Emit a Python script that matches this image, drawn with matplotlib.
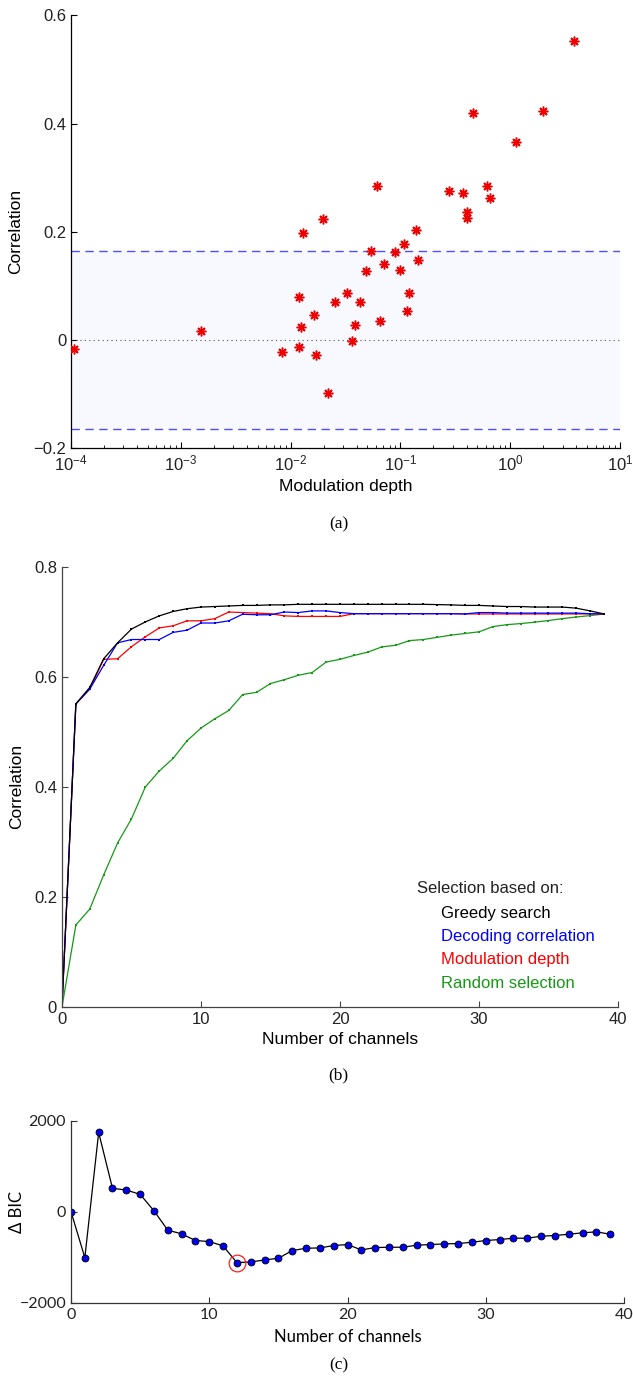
import numpy as np
import matplotlib
matplotlib.use('Agg')
import matplotlib.pyplot as plt

plt.rcParams['font.family'] = ['Liberation Sans', 'DejaVu Sans']
plt.rcParams['mathtext.fontset'] = 'custom'
plt.rcParams['mathtext.rm'] = 'Liberation Sans'
plt.rcParams['mathtext.it'] = 'Liberation Sans:italic'
plt.rcParams['axes.unicode_minus'] = True

# (a) modulation depth vs decoding correlation, one point per channel
mod_depth = [1.06e-4, 1.53e-3, 0.00834, 0.0119, 0.0119, 0.0125, 0.0130, 0.0162, 0.0170,
             0.01955, 0.0219, 0.0251, 0.0326, 0.0359, 0.0388, 0.0428, 0.0489, 0.0535,
             0.0617, 0.0646, 0.0713, 0.0885, 0.099, 0.1086, 0.1148, 0.1205, 0.1396,
             0.1457, 0.279, 0.369, 0.401, 0.401, 0.455, 0.615, 0.656, 1.14, 1.98, 3.80]
chan_corr = [-0.016, 0.017, -0.022, -0.012, 0.080, 0.025, 0.197, 0.046, -0.028,
             0.224, -0.097, 0.071, 0.087, -0.001, 0.028, 0.071, 0.127, 0.164,
             0.284, 0.036, 0.140, 0.162, 0.129, 0.178, 0.054, 0.087, 0.204,
             0.148, 0.276, 0.271, 0.236, 0.225, 0.420, 0.285, 0.262, 0.366, 0.423, 0.553]
sig_level = 0.165

# (b) correlation vs number of channels
n_chan = np.arange(40)
greedy = [0, 0.551, 0.581, 0.633, 0.662, 0.687, 0.700, 0.711, 0.719, 0.724,
          0.727, 0.728, 0.729, 0.730, 0.730, 0.731, 0.731, 0.732, 0.732, 0.732,
          0.732, 0.732, 0.732, 0.732, 0.732, 0.732, 0.732, 0.7315, 0.731, 0.730,
          0.730, 0.729, 0.728, 0.728, 0.727, 0.727, 0.727, 0.725, 0.720, 0.7145]
decoding = [0, 0.551, 0.578, 0.621, 0.662, 0.668, 0.668, 0.668, 0.681, 0.685,
            0.698, 0.698, 0.702, 0.714, 0.713, 0.713, 0.718, 0.717, 0.720, 0.720,
            0.717, 0.715, 0.715, 0.715, 0.715, 0.715, 0.715, 0.715, 0.715, 0.7145,
            0.717, 0.717, 0.716, 0.716, 0.716, 0.716, 0.716, 0.716, 0.715, 0.7145]
moddepth = [0, 0.551, 0.578, 0.632, 0.633, 0.655, 0.673, 0.689, 0.693, 0.702,
            0.702, 0.706, 0.718, 0.717, 0.716, 0.715, 0.711, 0.710, 0.710, 0.710,
            0.710, 0.715, 0.715, 0.715, 0.715, 0.715, 0.715, 0.715, 0.715, 0.7145,
            0.7145, 0.7145, 0.7145, 0.7145, 0.7145, 0.7145, 0.7145, 0.7145, 0.7145, 0.7145]
random_sel = [0, 0.149, 0.178, 0.240, 0.298, 0.342, 0.400, 0.429, 0.452, 0.484,
              0.507, 0.524, 0.539, 0.568, 0.572, 0.588, 0.595, 0.603, 0.608, 0.627,
              0.632, 0.639, 0.645, 0.6545, 0.6576, 0.666, 0.668, 0.672, 0.676, 0.679,
              0.682, 0.6915, 0.695, 0.697, 0.6995, 0.7025, 0.706, 0.709, 0.7115, 0.7145]
series_names = ['Greedy search', 'Decoding correlation', 'Modulation depth', 'Random selection']
series_cols = ['black', '#0000ff', '#ff0000', '#159a15']

# (c) delta BIC
delta_bic = [0, -1006, 1740, 514, 477, 382, 22, -404, -484, -631,
             -653, -749, -1116, -1101, -1057, -1020, -851, -800, -793, -741,
             -719, -837, -785, -778, -778, -734, -719, -705, -697, -668,
             -631, -609, -580, -580, -536, -521, -492, -462, -440, -492]

fig = plt.figure(figsize=(6.33, 13.76), dpi=100)

def style_axes(ax, col='black'):
    for s in ['top', 'right']:
        ax.spines[s].set_visible(False)
    for s in ['left', 'bottom']:
        ax.spines[s].set_color(col)
        ax.spines[s].set_linewidth(0.9)
    ax.tick_params(which='both', direction='in', top=False, right=False, colors=col,
                   labelcolor='#222222')
    ax.tick_params(which='major', length=4, labelsize=12)
    ax.tick_params(which='minor', length=2.5)

# ---- panel a
axa = fig.add_axes([0.1122, 0.6742, 0.8673, 0.3147])
axa.set_xscale('log')
axa.axhspan(-sig_level, sig_level, color='#f8f8ff', lw=0, zorder=0)
axa.axhline(sig_level, color='#4f4fff', ls=(0, (6, 4)), lw=1.0)
axa.axhline(-sig_level, color='#4f4fff', ls=(0, (6, 4)), lw=1.0)
axa.axhline(0, color='#555555', ls=(0, (1, 3)), lw=0.8)
axa.plot(mod_depth, chan_corr, ls='none', marker=(8, 2, 0), ms=7, mew=1.1,
         color='#ee0000', zorder=3)
axa.set_xlim(1e-4, 1e1)
axa.set_ylim(-0.2, 0.6)
decades = [1e-4, 1e-3, 1e-2, 1e-1, 1e0, 1e1]
axa.set_xticks(decades)
axa.set_xticklabels([r'$\mathrm{10^{%d}}$' % int(np.log10(d)) for d in decades])
axa.set_yticks([-0.2, 0, 0.2, 0.4, 0.6])
axa.set_yticklabels(['\u22120.2', '0', '0.2', '0.4', '0.6'])
style_axes(axa)
axa.set_xlabel('Modulation depth', fontsize=12.5)
axa.xaxis.set_label_coords(0.5, -0.089)
axa.xaxis.label.set_va('center')
axa.set_ylabel('Correlation', fontsize=12.5)
axa.yaxis.set_label_coords(-0.100, 0.5)
axa.yaxis.label.set_va('center')

# ---- panel b
axb = fig.add_axes([0.0979, 0.2682, 0.8784, 0.3198])
for vals, c in zip([random_sel, moddepth, decoding, greedy], series_cols[::-1]):
    axb.plot(n_chan, vals, color=c, lw=0.9, marker='s', ms=1.6, mew=0)
axb.set_xlim(0, 40)
axb.set_ylim(0, 0.8)
axb.set_xticks([0, 10, 20, 30, 40])
axb.set_yticks([0, 0.2, 0.4, 0.6, 0.8])
axb.set_yticklabels(['0', '0.2', '0.4', '0.6', '0.8'])
style_axes(axb, '#444444')
axb.set_xlabel('Number of channels', fontsize=12.5)
axb.xaxis.set_label_coords(0.5, -0.075)
axb.xaxis.label.set_va('center')
axb.set_ylabel('Correlation', fontsize=12.5)
axb.yaxis.set_label_coords(-0.081, 0.5)
axb.yaxis.label.set_va('center')
axb.text(0.638, 0.259, 'Selection based on:', transform=axb.transAxes, fontsize=12,
         va='baseline', ha='left', color='#222222')
for i, (name, c) in enumerate(zip(series_names, series_cols)):
    axb.text(0.681, 0.2016 - i * 0.0525, name, transform=axb.transAxes, fontsize=12,
             va='baseline', ha='left', color=c)

# ---- panel c
axc = fig.add_axes([0.1122, 0.0531, 0.8736, 0.1325])
axc.plot(n_chan, delta_bic, color='black', lw=0.9, marker='o', ms=5,
         mfc='#0000ee', mec='black', mew=0.6)
best = int(np.argmin(delta_bic))
axc.plot(n_chan[best], delta_bic[best], ls='none', marker='o', ms=12,
         mfc='none', mec='#ff2020', mew=0.9)
axc.set_xlim(0, 40)
axc.set_ylim(-2000, 2000)
axc.set_xticks([0, 10, 20, 30, 40])
axc.set_yticks([-2000, 0, 2000])
axc.set_yticklabels(['\u22122000', '0', '2000'])
style_axes(axc, '#333333')
for lab in axc.get_xticklabels() + axc.get_yticklabels():
    lab.set_family('Lato')
    lab.set_fontsize(11.5)
axc.set_xlabel('Number of channels', fontsize=12, family='Lato')
axc.xaxis.set_label_coords(0.5, -0.1865)
axc.xaxis.label.set_va('center')
axc.set_ylabel('\u0394 BIC', fontsize=12, family='Lato')
axc.yaxis.set_label_coords(-0.097, 0.5)
axc.yaxis.label.set_va('center')

# panel captions
for ytxt, cap in zip([0.6192, 0.2188, 0.008], ['(a)', '(b)', '(c)']):
    fig.text(0.535, ytxt, cap, ha='center', va='center', fontsize=12.5,
             family='Liberation Serif')

fig.savefig('out.png', dpi=100)
